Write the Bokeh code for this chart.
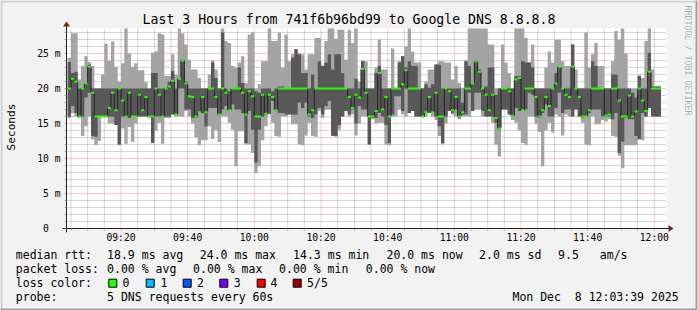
from math import pi
from bokeh.plotting import figure
from bokeh.models import (Range1d, FixedTicker, Label, BoxAnnotation, PolyAnnotation,
                          LinearAxis, Grid)
from bokeh.embed import file_html
from bokeh.resources import INLINE

# ---------------- data (milliseconds, one sample per minute from 09:04) ----------------
first_sample_min = 4.0      # minutes after 09:00
window_start_min = 3.65     # 09:03:39
window_end_min = 183.65     # 12:03:39
y_max_ms = 28.57

ping_min = [15.8, 16.5, 16.0, 15.8, 13.2, 14.6, 16.0, 12.7, 11.9, 12.5, 16.0, 16.0, 15.0, 15.0, 14.8, 11.9, 14.3, 12.1, 14.5, 12.4,
            15.0, 16.0, 16.0, 16.0, 15.8, 12.2, 14.0, 15.1, 12.1, 15.8, 15.8, 16.3, 16.0, 16.0, 16.0, 16.8, 16.0, 15.0, 13.0, 11.9,
            12.6, 12.6, 14.6, 12.8, 14.0, 12.4, 16.0, 16.0, 15.1, 14.1, 8.9, 13.9, 13.9, 12.0, 12.0, 10.8, 7.9, 8.9, 12.6, 14.6,
            16.3, 15.1, 13.2, 13.1, 16.0, 16.0, 16.3, 14.9, 14.9, 12.0, 11.9, 13.3, 15.1, 13.2, 13.1, 16.8, 15.8, 17.0, 17.0, 13.2,
            13.1, 14.1, 16.0, 16.8, 16.0, 16.3, 13.3, 15.0, 16.0, 16.0, 12.0, 15.6, 15.0, 15.1, 15.1, 12.0, 11.9, 16.0, 16.0, 17.0,
            16.3, 16.0, 16.5, 16.8, 16.0, 16.0, 16.0, 16.0, 16.5, 16.0, 15.5, 13.2, 12.0, 15.0, 16.8, 16.3, 16.0, 15.6, 16.0, 16.0,
            16.0, 16.8, 17.0, 17.0, 16.0, 16.0, 16.0, 15.1, 12.0, 10.3, 17.0, 17.0, 16.3, 15.5, 15.1, 14.0, 12.2, 11.9, 16.0, 16.0,
            15.0, 13.8, 8.9, 14.0, 15.1, 13.7, 16.3, 16.0, 13.3, 16.3, 16.0, 16.0, 17.0, 16.0, 15.1, 12.0, 11.9, 16.0, 14.9, 14.9,
            15.5, 15.3, 15.6, 13.2, 13.1, 10.4, 8.6, 11.9, 11.9, 11.9, 11.9, 12.7, 12.6, 16.0, 17.2, 16.0, 16.0, 16.0]
ping_q1 = [16.0, 17.5, 16.5, 16.0, 16.0, 18.7, 19.4, 13.2, 13.1, 16.0, 16.0, 16.0, 16.0, 16.0, 14.8, 12.0, 16.0, 16.0, 15.8, 16.0,
           16.0, 16.0, 16.0, 16.0, 16.0, 12.2, 16.0, 16.0, 16.0, 16.0, 16.0, 16.3, 16.3, 20.0, 20.0, 17.0, 17.0, 15.8, 15.8, 16.5,
           16.5, 14.6, 17.2, 17.2, 17.2, 16.2, 17.0, 17.5, 16.8, 17.7, 17.0, 17.0, 16.5, 12.2, 16.8, 14.1, 9.4, 14.1, 16.0, 16.3,
           16.4, 18.2, 16.8, 16.5, 16.5, 16.3, 16.3, 16.3, 16.3, 18.0, 17.2, 18.0, 16.0, 15.8, 16.3, 17.2, 16.3, 17.5, 18.2, 13.3,
           13.2, 14.8, 16.0, 16.8, 16.3, 17.0, 15.0, 17.5, 17.0, 17.0, 12.0, 15.8, 15.8, 16.5, 16.0, 14.8, 12.2, 16.3, 18.9, 18.9,
           16.8, 20.0, 16.5, 16.8, 16.0, 16.0, 16.0, 16.5, 16.5, 16.5, 16.0, 14.6, 12.2, 16.0, 16.8, 16.5, 17.0, 15.8, 16.3, 16.3,
           19.4, 16.8, 19.4, 19.4, 16.8, 16.0, 16.0, 16.0, 15.1, 14.1, 17.0, 17.0, 16.3, 16.0, 17.2, 16.8, 16.9, 17.0, 19.4, 19.1,
           16.0, 15.8, 16.5, 17.7, 16.0, 16.0, 17.2, 19.4, 16.5, 17.0, 17.0, 16.0, 17.0, 16.0, 15.8, 16.0, 16.5, 17.0, 17.0, 17.0,
           16.0, 16.0, 16.0, 15.6, 16.5, 10.8, 12.4, 15.8, 15.6, 15.6, 13.2, 12.8, 16.5, 16.0, 17.2, 16.0, 16.0, 16.0]
ping_median = [20.0, 21.4, 21.0, 16.0, 20.0, 20.7, 23.1, 19.4, 16.0, 16.0, 16.0, 16.0, 17.2, 19.4, 16.9, 20.0, 18.3, 16.0, 19.4, 16.0,
               16.0, 19.1, 16.9, 18.8, 16.0, 16.0, 20.0, 19.1, 16.0, 20.0, 20.3, 21.1, 16.3, 21.4, 24.0, 20.7, 18.9, 18.8, 16.0, 16.6,
               18.8, 16.6, 20.0, 20.0, 18.8, 16.3, 20.0, 19.4, 16.9, 20.0, 20.0, 20.0, 19.4, 16.3, 19.6, 18.9, 16.0, 16.0, 19.1, 16.4,
               19.1, 18.8, 16.9, 20.0, 20.0, 20.0, 20.0, 20.0, 20.0, 20.0, 20.0, 20.0, 16.3, 16.9, 20.0, 20.0, 20.0, 20.0, 20.0, 20.0,
               20.0, 20.0, 20.0, 20.0, 18.8, 17.2, 19.1, 18.7, 22.8, 19.4, 16.0, 16.0, 16.8, 22.2, 17.0, 18.8, 16.0, 20.0, 20.0, 20.0,
               20.6, 22.6, 20.0, 20.0, 20.0, 20.0, 16.0, 16.6, 18.8, 16.6, 19.4, 16.0, 16.0, 20.0, 19.6, 16.9, 18.8, 16.0, 16.6, 20.0,
               20.0, 20.7, 23.9, 22.4, 20.0, 19.1, 16.9, 19.1, 15.8, 14.3, 20.0, 20.0, 19.6, 16.1, 21.3, 21.5, 16.9, 20.0, 20.0, 20.0,
               18.8, 16.0, 16.9, 18.8, 17.5, 20.0, 20.7, 23.1, 20.0, 19.1, 18.8, 23.1, 20.0, 18.8, 16.0, 16.0, 16.9, 20.0, 20.0, 20.0,
               20.0, 16.1, 16.3, 20.0, 20.0, 18.3, 16.0, 16.0, 19.0, 16.0, 16.7, 20.0, 18.3, 16.8, 22.4, 20.0, 20.0, 20.0]
ping_q3 = [23.8, 22.2, 22.4, 20.0, 20.0, 20.8, 23.4, 20.0, 20.0, 20.0, 20.0, 20.0, 20.0, 20.0, 20.0, 20.0, 20.0, 20.0, 20.0, 20.0,
           20.0, 20.0, 20.0, 20.0, 20.0, 22.2, 22.2, 20.0, 20.0, 20.0, 21.0, 22.5, 20.0, 21.5, 24.1, 21.0, 20.0, 20.0, 20.0, 20.0,
           20.0, 20.0, 20.0, 23.7, 21.5, 20.0, 28.0, 20.0, 19.6, 20.0, 20.0, 23.0, 20.8, 20.0, 20.0, 20.0, 19.6, 19.4, 20.0, 20.0,
           20.0, 19.6, 20.0, 20.3, 20.3, 20.0, 20.0, 24.4, 25.6, 24.9, 22.2, 22.2, 20.0, 22.0, 20.0, 23.9, 23.2, 23.7, 24.9, 22.7,
           24.9, 24.9, 22.2, 20.0, 20.0, 20.0, 21.4, 20.0, 23.9, 20.0, 20.0, 20.0, 22.2, 23.2, 20.0, 20.0, 20.0, 20.0, 20.0, 23.7,
           24.6, 23.0, 23.9, 23.2, 23.2, 20.0, 20.0, 20.6, 20.1, 20.6, 23.4, 23.4, 20.0, 20.0, 20.0, 20.0, 20.0, 20.0, 18.0, 23.9,
           23.2, 20.8, 24.0, 22.7, 20.0, 20.3, 23.0, 23.0, 19.1, 20.0, 20.0, 20.0, 20.0, 20.0, 21.8, 21.8, 23.9, 23.7, 23.7, 23.0,
           20.0, 20.0, 20.0, 20.0, 20.0, 20.0, 22.2, 23.2, 20.0, 20.0, 20.0, 26.3, 20.0, 20.0, 20.0, 20.0, 20.0, 23.9, 23.2, 20.0,
           20.0, 20.0, 20.0, 22.0, 22.0, 20.0, 20.0, 20.0, 20.0, 19.4, 18.7, 21.8, 20.0, 20.0, 25.1, 20.3, 20.3, 20.3]
ping_max = [24.4, 27.9, 27.9, 21.3, 23.2, 24.6, 23.8, 23.2, 20.0, 20.0, 22.0, 26.4, 24.0, 26.7, 23.1, 21.0, 23.6, 28.6, 25.0, 23.1,
            23.6, 22.6, 22.6, 20.9, 20.0, 25.1, 25.3, 27.9, 27.7, 21.8, 21.8, 24.9, 22.0, 28.6, 27.9, 26.3, 24.1, 22.7, 22.7, 21.5,
            20.0, 20.0, 22.0, 24.0, 22.7, 20.0, 29.5, 26.8, 26.5, 23.2, 23.0, 23.7, 24.6, 20.8, 27.7, 28.0, 20.0, 20.6, 23.9, 23.9,
            28.7, 26.8, 26.8, 28.0, 23.0, 27.7, 23.9, 24.9, 25.6, 25.0, 24.9, 22.7, 24.9, 24.9, 27.2, 27.2, 23.3, 26.8, 28.7, 28.6,
            27.1, 28.4, 28.4, 24.1, 28.4, 26.5, 28.6, 21.0, 24.0, 23.9, 20.0, 20.0, 23.0, 27.0, 22.7, 22.7, 20.0, 25.7, 20.0, 23.9,
            24.6, 26.0, 28.7, 25.3, 23.7, 23.7, 20.0, 21.0, 22.7, 22.7, 23.5, 23.9, 23.9, 23.7, 23.7, 21.3, 23.2, 20.8, 20.1, 24.0,
            28.7, 28.7, 28.7, 28.7, 28.7, 28.7, 26.3, 26.3, 20.0, 20.0, 26.3, 23.7, 22.2, 20.0, 28.7, 28.7, 28.7, 27.2, 23.7, 26.3,
            20.0, 20.0, 20.0, 23.0, 25.3, 23.7, 27.0, 27.0, 23.9, 23.2, 23.2, 26.3, 22.7, 20.0, 20.0, 28.0, 23.0, 24.9, 26.5, 23.2,
            23.2, 20.0, 20.0, 23.9, 28.2, 27.0, 28.7, 25.0, 20.0, 20.0, 20.0, 21.9, 21.5, 26.8, 28.7, 22.7, 20.3, 20.3]

y_ticks = [0, 5, 10, 15, 20, 25]
y_tick_labels = ["0  ", "5 m", "10 m", "15 m", "20 m", "25 m"]
y_minor = [v for v in range(1, 29) if v % 5]
x_ticks = [20, 40, 60, 80, 100, 120, 140, 160, 180]
x_tick_labels = ["09:20", "09:40", "10:00", "10:20", "10:40", "11:00", "11:20", "11:40", "12:00"]
x_minor = [m for m in range(5, 184, 5) if m % 20]

title_text = "Last 3 Hours from 741f6b96bd99 to Google DNS 8.8.8.8"
unit_text = "Seconds"
side_text = "RRDTOOL / TOBI OETIKER"
rtt_items = ["median rtt:", "18.9 ms avg", "24.0 ms max", "14.3 ms min", "20.0 ms now", "2.0 ms sd", "9.5", "am/s"]
loss_items = ["packet loss:", "0.00 % avg", "0.00 % max", "0.00 % min", "0.00 % now"]
loss_color_labels = ["0", "1", "2", "3", "4", "5/5"]
loss_colors = ["#26ff00", "#00b8ff", "#0059ff", "#7e00ff", "#ff0000", "#a10000"]
probe_items = ["probe:", "5 DNS requests every 60s"]
stamp_text = "Mon Dec \u00a08 12:03:39 2025"

# ---------------- layout: the frame is the whole canvas, plot area = 600x200 at (66, 28) ----------------
W, H = 697, 310
FL, FT, FW, FH = 66, 28, 600, 200
MONO = "DejaVu Sans Mono"


def X(px):
    return window_start_min + (px - FL) * (window_end_min - window_start_min) / FW


def Y(py):
    return (FT + FH - py) * y_max_ms / FH


p = figure(width=W, height=H, output_backend="svg", toolbar_location=None,
           x_range=Range1d(X(0), X(W)), y_range=Range1d(Y(H), Y(0)),
           x_axis_location=None, y_axis_location=None,
           min_border=0, min_border_left=0, min_border_right=0, min_border_top=0, min_border_bottom=0)
p.background_fill_color = "#f2f2f2"
p.border_fill_color = "#f2f2f2"
p.outline_line_color = None
for r in list(p.center):
    if isinstance(r, Grid):
        r.visible = False

# plot canvas (white)
p.quad(left=[window_start_min], right=[window_end_min], bottom=[0], top=[y_max_ms],
       fill_color="white", line_color=None)

# grid (dotted), minor then major
p.segment(x0=x_minor, y0=[0] * len(x_minor), x1=x_minor, y1=[y_max_ms] * len(x_minor),
          line_color="#8f8f8f", line_alpha=0.75, line_dash="1 1", line_width=1)
p.segment(x0=[window_start_min] * len(y_minor), y0=y_minor, x1=[window_end_min] * len(y_minor), y1=y_minor,
          line_color="#8f8f8f", line_alpha=0.75, line_dash="1 1", line_width=1)
p.segment(x0=x_ticks, y0=[0] * len(x_ticks), x1=x_ticks, y1=[y_max_ms] * len(x_ticks),
          line_color="#de4f4f", line_alpha=0.6, line_dash="1 1", line_width=1)
p.segment(x0=[window_start_min] * len(y_ticks[1:]), y0=y_ticks[1:], x1=[window_end_min] * len(y_ticks[1:]),
          y1=y_ticks[1:], line_color="#de4f4f", line_alpha=0.6, line_dash="1 1", line_width=1)

# ---------------- smoke + median ----------------
n = len(ping_median)
edges = [first_sample_min + i for i in range(n + 1)]


def ext(a):
    a = [min(v, y_max_ms) for v in a]
    return a + [a[-1]]


band = y_max_ms / FH
p.varea_step(x=edges, y1=ext(ping_min), y2=ext(ping_max), step_mode="after", fill_color="#a4a4a4")
p.varea_step(x=edges, y1=ext(ping_q1), y2=ext(ping_q3), step_mode="after", fill_color="#585858")
p.step(x=edges, y=ext(ping_median), mode="after", line_color="#202020", line_width=1)
p.varea_step(x=edges, y1=[m - band for m in ext(ping_median)], y2=[m + band for m in ext(ping_median)],
             step_mode="after", fill_color=loss_colors[0])

# ---------------- axes drawn at the plot area's edges ----------------
xaxis = LinearAxis(ticker=FixedTicker(ticks=x_ticks, minor_ticks=x_minor), fixed_location=0,
                   bounds=(X(FL - 4), X(FL + FW + 4)))
xaxis.major_label_overrides = {t: s for t, s in zip(x_ticks, x_tick_labels)}
yaxis = LinearAxis(ticker=FixedTicker(ticks=y_ticks, minor_ticks=y_minor), fixed_location=window_start_min,
                   bounds=(Y(FT + FH + 4), Y(FT - 4)))
yaxis.major_label_overrides = {t: s for t, s in zip(y_ticks, y_tick_labels)}
for ax, standoff in ((xaxis, 1), (yaxis, 4)):
    ax.major_label_text_font = MONO
    ax.major_label_text_font_size = "9.7px"
    ax.major_label_text_color = "black"
    ax.major_label_standoff = standoff
    ax.axis_line_color = "#1f1f1f"
    ax.major_tick_line_color = "#de4f4f"
    ax.major_tick_line_alpha = 0.6
    ax.major_tick_in = 0
    ax.major_tick_out = 2
    ax.minor_tick_line_color = "#8f8f8f"
    ax.minor_tick_line_alpha = 0.75
    ax.minor_tick_in = 0
    ax.minor_tick_out = 2
p.add_layout(xaxis, "below")
p.add_layout(yaxis, "left")


# ---------------- decorations ----------------
def box(l, r, t, b, color, line=None):
    p.add_layout(BoxAnnotation(left=X(l), right=X(r), top=Y(t), bottom=Y(b),
                               fill_color=color, fill_alpha=1.0,
                               line_color=line if line else color, line_alpha=1.0 if line else 0.0,
                               line_width=1))


def lab(text, px, py, size, align="left", angle=0.0, color="black", alpha=1.0):
    p.add_layout(Label(x=X(px), y=Y(py), text=text, text_font=MONO, text_font_size=f"{size}px",
                       text_align=align, text_baseline="middle", angle=angle,
                       text_color=color, text_alpha=alpha))


# canvas 3d border
box(0, W, 0, 2, "#cfcfcf")
box(0, 2, 0, H, "#cfcfcf")
box(0, W, H - 2, H, "#9e9e9e")
box(W - 2, W, 0, H, "#9e9e9e")

# axis arrows
p.add_layout(PolyAnnotation(xs=[X(FL + FW + 2), X(FL + FW + 2), X(FL + FW + 7)],
                            ys=[Y(FT + FH - 3.5), Y(FT + FH + 3.5), Y(FT + FH)],
                            fill_color="#801f1f", fill_alpha=1.0, line_alpha=0.0))
p.add_layout(PolyAnnotation(xs=[X(FL - 3.5), X(FL + 3.5), X(FL)],
                            ys=[Y(FT - 2), Y(FT - 2), Y(FT - 7)],
                            fill_color="#801f1f", fill_alpha=1.0, line_alpha=0.0))

# texts
lab(title_text, 348.5, 19, 13.2, align="center")
lab(unit_text, 10.5, 126.5, 11.1, align="center", angle=pi / 2)
lab(side_text, 687, 5, 8.3, align="left", angle=-pi / 2, alpha=0.3)

LEG = 11.5
for text, px in zip(rtt_items, [16, 107.3, 200, 293.3, 386.7, 479.3, 558.3, 600]):
    lab(text, px - 0.7, 254.3, LEG)
for text, px in zip(loss_items, [16, 107.3, 193.3, 279.3, 366]):
    lab(text, px - 0.7, 268.3, LEG)
lab("loss color:", 16 - 0.7, 282.3, LEG)
for text, col, bx, tx in zip(loss_color_labels, loss_colors,
                             [108.3, 145.7, 182.7, 219.3, 256.7, 292.7],
                             [122.7, 160.7, 197.3, 234, 270.7, 307.3]):
    box(bx, bx + 8, 278.7, 286.7, col, line="black")
    lab(text, tx - 0.7, 282.3, LEG)
for text, px in zip(probe_items, [16, 107.3]):
    lab(text, px - 0.7, 296, LEG)
lab(stamp_text, 512.7 - 0.7, 296, LEG)

open("out.html", "w").write(file_html(p, INLINE))
